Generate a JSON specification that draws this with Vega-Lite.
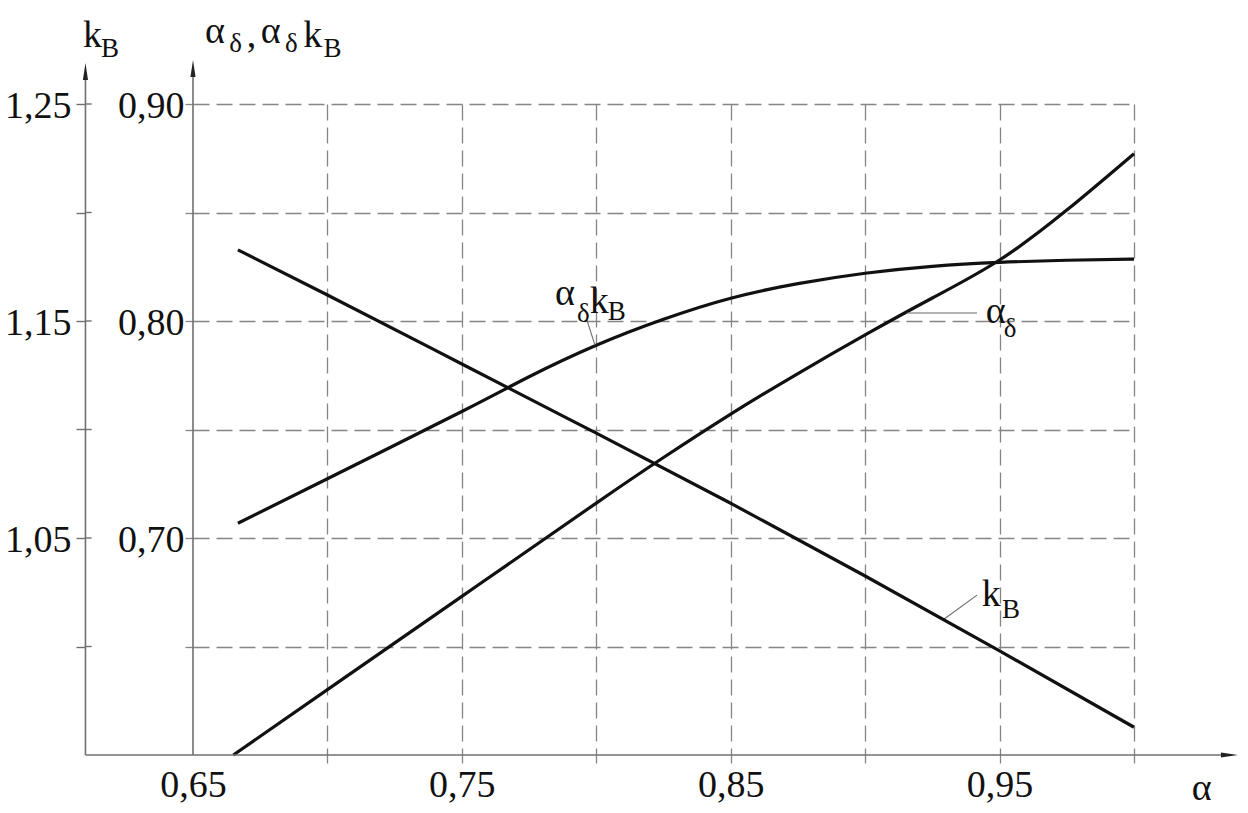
{
  "$schema": "https://vega.github.io/schema/vega-lite/v6.json",
  "width": 941,
  "height": 651,
  "autosize": {"type": "none"},
  "padding": {"left": 193, "top": 104, "right": 114, "bottom": 58},
  "background": "white",
  "config": {"view": {"stroke": null}, "font": "Liberation Serif"},
  "datasets": {
    "curves": [
      {"a": 0.665, "v": 0.600, "s": "αδ"},
      {"a": 0.700, "v": 0.6301, "s": "αδ"},
      {"a": 0.750, "v": 0.6731, "s": "αδ"},
      {"a": 0.800, "v": 0.7161, "s": "αδ"},
      {"a": 0.825, "v": 0.7371, "s": "αδ"},
      {"a": 0.850, "v": 0.7571, "s": "αδ"},
      {"a": 0.875, "v": 0.7758, "s": "αδ"},
      {"a": 0.900, "v": 0.7936, "s": "αδ"},
      {"a": 0.925, "v": 0.8106, "s": "αδ"},
      {"a": 0.950, "v": 0.8281, "s": "αδ"},
      {"a": 0.975, "v": 0.8511, "s": "αδ"},
      {"a": 1.000, "v": 0.8771, "s": "αδ"},
      {"a": 0.6667, "v": 0.7068, "s": "αδkB"},
      {"a": 0.700, "v": 0.7273, "s": "αδkB"},
      {"a": 0.750, "v": 0.7583, "s": "αδkB"},
      {"a": 0.775, "v": 0.7743, "s": "αδkB"},
      {"a": 0.800, "v": 0.7888, "s": "αδkB"},
      {"a": 0.825, "v": 0.8008, "s": "αδkB"},
      {"a": 0.850, "v": 0.8105, "s": "αδkB"},
      {"a": 0.875, "v": 0.8172, "s": "αδkB"},
      {"a": 0.900, "v": 0.8220, "s": "αδkB"},
      {"a": 0.925, "v": 0.8252, "s": "αδkB"},
      {"a": 0.950, "v": 0.8270, "s": "αδkB"},
      {"a": 0.975, "v": 0.8280, "s": "αδkB"},
      {"a": 1.000, "v": 0.8285, "s": "αδkB"}
    ],
    "kb": [
      {"a": 0.6667, "kb": 1.1828},
      {"a": 0.700, "kb": 1.1620},
      {"a": 0.750, "kb": 1.1302},
      {"a": 0.800, "kb": 1.0983},
      {"a": 0.850, "kb": 1.0660},
      {"a": 0.900, "kb": 1.0325},
      {"a": 0.950, "kb": 0.9980},
      {"a": 1.000, "kb": 0.9628}
    ],
    "kbticks": [
      {"kb": 1.00}, {"kb": 1.05}, {"kb": 1.10}, {"kb": 1.15}, {"kb": 1.20}, {"kb": 1.25}
    ],
    "labels": [
      {"a": 0.6091, "v": 0.9263, "t": "k", "r": "m"},
      {"a": 0.6158, "v": 0.9217, "t": "B", "r": "s"},
      {"a": 0.6545, "v": 0.9281, "t": "α", "r": "m"},
      {"a": 0.6635, "v": 0.9240, "t": "δ", "r": "s"},
      {"a": 0.6700, "v": 0.9263, "t": ",", "r": "m"},
      {"a": 0.6752, "v": 0.9281, "t": "α", "r": "m"},
      {"a": 0.6842, "v": 0.9240, "t": "δ", "r": "s"},
      {"a": 0.6910, "v": 0.9263, "t": "k", "r": "m"},
      {"a": 0.6985, "v": 0.9217, "t": "B", "r": "s"},
      {"a": 0.7846, "v": 0.8074, "t": "α", "r": "m"},
      {"a": 0.7928, "v": 0.7995, "t": "δ", "r": "s"},
      {"a": 0.7976, "v": 0.8037, "t": "k", "r": "m"},
      {"a": 0.8043, "v": 0.8005, "t": "B", "r": "s"},
      {"a": 0.9449, "v": 0.7991, "t": "α", "r": "m"},
      {"a": 0.9516, "v": 0.7926, "t": "δ", "r": "s"},
      {"a": 0.9434, "v": 0.6687, "t": "k", "r": "m"},
      {"a": 0.9509, "v": 0.6631, "t": "B", "r": "s"},
      {"a": 1.0215, "v": 0.5793, "t": "α", "r": "m"}
    ],
    "leaders": [
      {"a": 0.7965, "v": 0.8005, "a2": 0.7995, "v2": 0.7889},
      {"a": 0.9155, "v": 0.8037, "a2": 0.9416, "v2": 0.8037},
      {"a": 0.9289, "v": 0.6622, "a2": 0.9416, "v2": 0.6737}
    ],
    "frame": [
      {"a": 0.61, "v": 0.60, "a2": 0.61, "v2": 0.913},
      {"a": 0.65, "v": 0.60, "a2": 0.65, "v2": 0.914},
      {"a": 0.61, "v": 0.60, "a2": 1.033, "v2": 0.60}
    ],
    "arrows": [
      {"a": 0.61, "v": 0.915, "d": "up"},
      {"a": 0.65, "v": 0.9164, "d": "up"},
      {"a": 1.0355, "v": 0.60, "d": "right"}
    ]
  },
  "layer": [
    {
      "layer": [
        {
          "data": {"name": "curves"},
          "mark": {"type": "line", "interpolate": "natural", "color": "#111111", "strokeWidth": 3.2},
          "encoding": {
            "x": {
              "field": "a", "type": "quantitative",
              "scale": {"domain": [0.65, 1.0], "nice": false, "zero": false},
              "axis": {
                "values": [0.65, 0.7, 0.75, 0.8, 0.85, 0.9, 0.95, 1.0],
                "title": null,
                "domain": false,
                "grid": true,
                "gridDash": [16, 7],
                "gridWidth": 1.3,
                "gridColor": {"condition": {"test": "datum.value < 0.66", "value": "transparent"}, "value": "#858585"},
                "ticks": true,
                "tickSize": 8,
                "tickWidth": 1.3,
                "tickColor": {"condition": {"test": "datum.value < 0.66", "value": "transparent"}, "value": "#858585"},
                "labelExpr": "round(datum.value*100) % 10 == 5 ? replace(format(datum.value, '.2f'), '.', ',') : ''",
                "labelFont": "Liberation Serif",
                "labelFontSize": 38,
                "labelColor": "#111111",
                "labelPadding": 3,
                "labelFlush": false,
                "labelOverlap": false
              }
            },
            "y": {
              "field": "v", "type": "quantitative",
              "scale": {"domain": [0.6, 0.9], "nice": false, "zero": false},
              "axis": {
                "values": [0.65, 0.7, 0.75, 0.8, 0.85, 0.9],
                "title": null,
                "domain": false,
                "grid": true,
                "gridDash": [16, 7],
                "gridWidth": 1.3,
                "gridColor": "#858585",
                "ticks": true,
                "tickSize": 8,
                "tickWidth": 1.3,
                "tickColor": "#858585",
                "labelExpr": "round(datum.value*100) % 10 == 0 ? replace(format(datum.value, '.2f'), '.', ',') : ''",
                "labelFont": "Liberation Serif",
                "labelFontSize": 38,
                "labelColor": "#111111",
                "labelPadding": 1,
                "labelOffset": 2,
                "labelFlush": false,
                "labelOverlap": false
              }
            },
            "detail": {"field": "s", "type": "nominal"}
          }
        },
        {
          "data": {"name": "frame"},
          "mark": {"type": "rule", "color": "#707070", "strokeWidth": 1.6},
          "encoding": {
            "x": {"field": "a", "type": "quantitative", "scale": {"domain": [0.65, 1.0], "nice": false, "zero": false}},
            "x2": {"field": "a2"},
            "y": {"field": "v", "type": "quantitative", "scale": {"domain": [0.6, 0.9], "nice": false, "zero": false}},
            "y2": {"field": "v2"}
          }
        },
        {
          "data": {"name": "arrows"},
          "mark": {"type": "point", "filled": true, "color": "#222222", "opacity": 1, "size": 289},
          "encoding": {
            "x": {"field": "a", "type": "quantitative", "scale": {"domain": [0.65, 1.0], "nice": false, "zero": false}},
            "y": {"field": "v", "type": "quantitative", "scale": {"domain": [0.6, 0.9], "nice": false, "zero": false}},
            "shape": {
              "field": "d", "type": "nominal",
              "scale": {"domain": ["up", "right"], "range": ["M0,-1L0.3,1L-0.3,1Z", "M1,0L-1,-0.3L-1,0.3Z"]},
              "legend": null
            }
          }
        },
        {
          "data": {"name": "leaders"},
          "mark": {"type": "rule", "color": "#6a6a6a", "strokeWidth": 1.1},
          "encoding": {
            "x": {"field": "a", "type": "quantitative", "scale": {"domain": [0.65, 1.0], "nice": false, "zero": false}},
            "x2": {"field": "a2"},
            "y": {"field": "v", "type": "quantitative", "scale": {"domain": [0.6, 0.9], "nice": false, "zero": false}},
            "y2": {"field": "v2"}
          }
        },
        {
          "data": {"name": "labels"},
          "mark": {"type": "text", "align": "left", "baseline": "alphabetic", "font": "Liberation Serif", "color": "#111111"},
          "encoding": {
            "x": {"field": "a", "type": "quantitative", "scale": {"domain": [0.65, 1.0], "nice": false, "zero": false}},
            "y": {"field": "v", "type": "quantitative", "scale": {"domain": [0.6, 0.9], "nice": false, "zero": false}},
            "text": {"field": "t", "type": "nominal"},
            "size": {"field": "r", "type": "nominal", "scale": {"domain": ["m", "s"], "range": [38, 27]}, "legend": null}
          }
        }
      ]
    },
    {
      "layer": [
        {
          "data": {"name": "kb"},
          "mark": {"type": "line", "interpolate": "natural", "color": "#111111", "strokeWidth": 3.2},
          "encoding": {
            "x": {"field": "a", "type": "quantitative", "scale": {"domain": [0.65, 1.0], "nice": false, "zero": false}},
            "y": {
              "field": "kb", "type": "quantitative",
              "scale": {"domain": [0.95, 1.25], "nice": false, "zero": false},
              "axis": {
                "orient": "left",
                "offset": 108,
                "values": [1.0, 1.05, 1.1, 1.15, 1.2, 1.25],
                "title": null,
                "domain": false,
                "grid": false,
                "ticks": true,
                "tickSize": 9,
                "tickWidth": 1.4,
                "tickColor": "#707070",
                "labelExpr": "round(datum.value*100) % 10 == 5 ? replace(format(datum.value, '.2f'), '.', ',') : ''",
                "labelFont": "Liberation Serif",
                "labelFontSize": 38,
                "labelColor": "#111111",
                "labelPadding": 5,
                "labelOffset": 2,
                "labelFlush": false,
                "labelOverlap": false
              }
            }
          }
        },
        {
          "data": {"name": "kbticks"},
          "mark": {"type": "rule", "color": "#707070", "strokeWidth": 1.4},
          "encoding": {
            "x": {"datum": 0.61, "type": "quantitative", "scale": {"domain": [0.65, 1.0], "nice": false, "zero": false}},
            "x2": {"datum": 0.6123},
            "y": {"field": "kb", "type": "quantitative", "scale": {"domain": [0.95, 1.25], "nice": false, "zero": false}}
          }
        }
      ]
    }
  ],
  "resolve": {"scale": {"y": "independent"}, "axis": {"y": "independent"}}
}
